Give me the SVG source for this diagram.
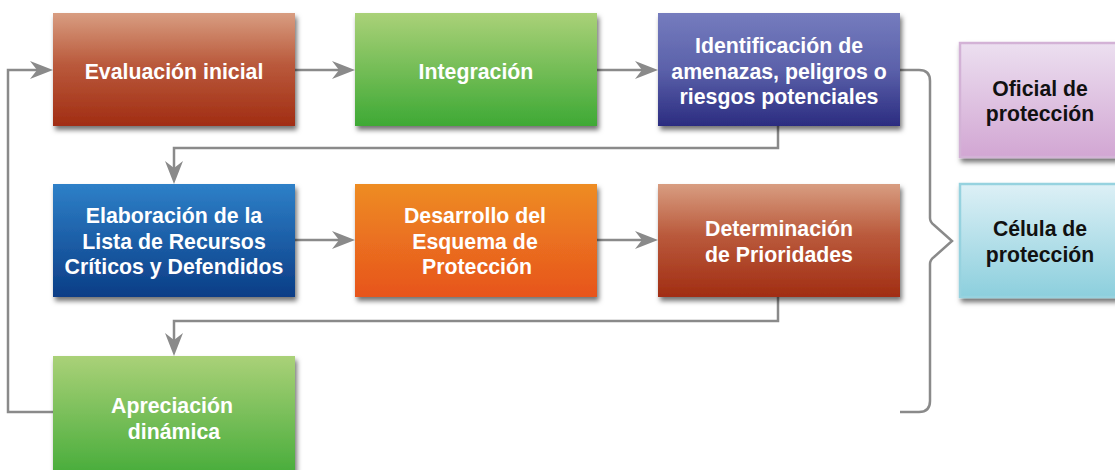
<svg xmlns="http://www.w3.org/2000/svg" width="1115" height="470" viewBox="0 0 1115 470">
<defs>
<linearGradient id="gRed" x1="0" y1="0" x2="0" y2="1">
<stop offset="0" stop-color="#d89d81"/><stop offset="0.45" stop-color="#ba5a3c"/><stop offset="1" stop-color="#a12d13"/>
</linearGradient>
<linearGradient id="gGreen" x1="0" y1="0" x2="0" y2="1">
<stop offset="0" stop-color="#aad178"/><stop offset="1" stop-color="#3ea935"/>
</linearGradient>
<linearGradient id="gPurple" x1="0" y1="0" x2="0" y2="1">
<stop offset="0" stop-color="#757cbe"/><stop offset="0.5" stop-color="#5b61aa"/><stop offset="1" stop-color="#2b2c80"/>
</linearGradient>
<linearGradient id="gBlue" x1="0" y1="0" x2="0" y2="1">
<stop offset="0" stop-color="#2e80c8"/><stop offset="1" stop-color="#0b3d86"/>
</linearGradient>
<linearGradient id="gOrange" x1="0" y1="0" x2="0" y2="1">
<stop offset="0" stop-color="#ee8c23"/><stop offset="1" stop-color="#e7541d"/>
</linearGradient>
<linearGradient id="gPink" x1="0" y1="0" x2="0" y2="1">
<stop offset="0" stop-color="#ecdff0"/><stop offset="1" stop-color="#d2a6d3"/>
</linearGradient>
<linearGradient id="gCyan" x1="0" y1="0" x2="0" y2="1">
<stop offset="0" stop-color="#ddf0f6"/><stop offset="1" stop-color="#8ccfdd"/>
</linearGradient>
<filter id="sh" x="-10%" y="-10%" width="125%" height="130%">
<feDropShadow dx="2" dy="4" stdDeviation="2.5" flood-color="#000" flood-opacity="0.55"/>
</filter>
<marker id="arr" markerUnits="userSpaceOnUse" markerWidth="24" markerHeight="18" refX="7" refY="9" orient="auto">
<path d="M0,0 L23,9 L0,18 L7,9 Z" fill="#8a8a8a"/>
</marker>
<style>
.box{filter:url(#sh);}
.wt{font-family:"Liberation Sans",Arial,sans-serif;font-weight:bold;font-size:21.3px;fill:#ffffff;text-anchor:middle;}
.bt{font-family:"Liberation Sans",Arial,sans-serif;font-weight:bold;font-size:21.2px;fill:#111111;text-anchor:middle;}
.con{fill:none;stroke:#8a8a8a;stroke-width:2.5;}
</style>
</defs>
<g id="connectors">
<path class="con" d="M295,70 L339,70" marker-end="url(#arr)"/>
<path class="con" d="M597,70 L642,70" marker-end="url(#arr)"/>
<path class="con" d="M778,126 L778,148 L174,148 L174,168" marker-end="url(#arr)"/>
<path class="con" d="M295,240 L339,240" marker-end="url(#arr)"/>
<path class="con" d="M597,240 L642,240" marker-end="url(#arr)"/>
<path class="con" d="M778,297 L778,321 L174,321 L174,340" marker-end="url(#arr)"/>
<path class="con" d="M53,412 L8,412 L8,70 L37,70" marker-end="url(#arr)"/>
<path class="con" d="M900,70 L919,70 Q930,70 930,81 L930,218 Q930,222 934,225 L952,241 L934,257 Q930,260 930,264 L930,401 Q930,412 919,412 L900,412"/>
</g>
<g id="n1"><rect class="box" x="53" y="13" width="242" height="113" fill="url(#gRed)"/><text class="wt" x="174" y="79">Evaluación inicial</text></g>
<g id="n2"><rect class="box" x="355" y="13" width="242" height="113" fill="url(#gGreen)"/><text class="wt" x="476" y="79">Integración</text></g>
<g id="n3"><rect class="box" x="658" y="13" width="242" height="113" fill="url(#gPurple)"/>
<text class="wt" x="779" y="53">Identificación de</text><text class="wt" x="779" y="79">amenazas, peligros o</text><text class="wt" x="779" y="104">riesgos potenciales</text></g>
<g id="n4"><rect class="box" x="53" y="184" width="242" height="113" fill="url(#gBlue)"/>
<text class="wt" x="174" y="223">Elaboración de la</text><text class="wt" x="174" y="249">Lista de Recursos</text><text class="wt" x="174" y="274">Críticos y Defendidos</text></g>
<g id="n5"><rect class="box" x="355" y="184" width="242" height="113" fill="url(#gOrange)"/>
<text class="wt" x="475" y="223">Desarrollo del</text><text class="wt" x="475" y="249">Esquema de</text><text class="wt" x="477" y="274">Protección</text></g>
<g id="n6"><rect class="box" x="658" y="184" width="242" height="113" fill="url(#gRed)"/>
<text class="wt" x="779" y="236">Determinación</text><text class="wt" x="779" y="262">de Prioridades</text></g>
<g id="n7"><rect class="box" x="53" y="356" width="242" height="130" fill="url(#gGreen)"/>
<text class="wt" x="172" y="413">Apreciación</text><text class="wt" x="174" y="439">dinámica</text></g>
<g id="n8"><rect class="box" x="960" y="43" width="162" height="114" fill="url(#gPink)" stroke="#d3b2d6" stroke-width="2.5"/>
<text class="bt" x="1040" y="96">Oficial de</text><text class="bt" x="1040" y="121">protección</text></g>
<g id="n9"><rect class="box" x="960" y="184" width="162" height="113" fill="url(#gCyan)" stroke="#96d2df" stroke-width="2.5"/>
<text class="bt" x="1040" y="236">Célula de</text><text class="bt" x="1040" y="262">protección</text></g>
</svg>
